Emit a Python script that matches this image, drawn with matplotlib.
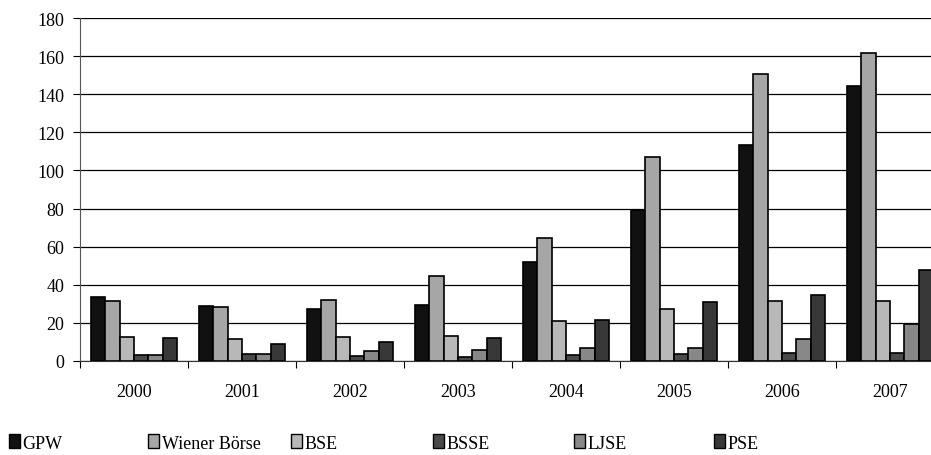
import matplotlib
matplotlib.use("Agg")
import matplotlib.pyplot as plt
import numpy as np
from matplotlib.patches import Patch

years = ["2000", "2001", "2002", "2003", "2004", "2005", "2006", "2007"]
series_names = ["GPW", "Wiener Börse", "BSE", "BSSE", "LJSE", "PSE"]
gpw    = [33.7, 28.8, 27.1, 29.4, 51.9, 79.5, 113.1, 144.4]
wiener = [31.6, 28.3, 32.1, 44.7, 64.5, 107.1, 150.8, 161.8]
bse    = [12.7, 11.5, 12.4, 13.1, 20.8, 27.4, 31.6, 31.5]
bsse   = [3.3, 3.8, 2.4, 2.1, 2.9, 3.7, 4.0, 4.4]
ljse   = [3.1, 3.7, 5.4, 5.6, 7.0, 6.6, 11.5, 19.6]
pse    = [12.1, 8.9, 9.8, 12.2, 21.7, 31.1, 34.8, 47.9]
colors = ["#111111", "#a6a6a6", "#b8b8b8", "#4a4a4a", "#888888", "#383838"]
yticks = [0, 20, 40, 60, 80, 100, 120, 140, 160, 180]

data = [gpw, wiener, bse, bsse, ljse, pse]

plt.rcParams['font.family'] = ['Liberation Serif', 'DejaVu Serif']

W, H = 931, 456
fig = plt.figure(figsize=(W / 100, H / 100), dpi=100)
ax = fig.add_axes([80 / W, (H - 362) / H, (944 - 80) / W, (362 - 19) / H])

n = len(data)
bw = 0.134
x = np.arange(len(years))
for i, (vals, c, name) in enumerate(zip(data, colors, series_names)):
    offs = (i - (n - 1) / 2) * bw
    ax.bar(x + offs, vals, width=bw, color=c, edgecolor="black", linewidth=1.2,
           label=name, zorder=3)

ax.set_xlim(-0.5, len(years) - 0.5)
ax.set_ylim(0, 180)
ax.set_yticks(yticks)
ax.yaxis.grid(True, color="black", linewidth=0.9, zorder=0)
ax.set_axisbelow(True)
ax.tick_params(axis="y", direction="out", length=5, width=0.8, labelsize=13, pad=6.5)

ax.set_xticks(np.arange(-0.5, len(years) + 0.5, 1.0))
ax.set_xticklabels([])
ax.set_xticks(x, minor=True)
ax.set_xticklabels(years, minor=True)
ax.tick_params(axis="x", which="major", direction="out", length=5, width=0.8)
ax.tick_params(axis="x", which="minor", length=0, labelsize=13, pad=15.5)

for s in ["top", "right"]:
    ax.spines[s].set_visible(False)
ax.spines["left"].set_color("#555555")
ax.spines["bottom"].set_color("#333333")

# legend entries, equally spaced along the bottom
xs = [9, 148, 291, 433, 574, 714]
for name, c, px in zip(series_names, colors, xs):
    h = Patch(facecolor=c, edgecolor="black", linewidth=1.0)
    fig.legend(handles=[h], labels=[name], loc="center left",
               bbox_to_anchor=(px / W, (H - 444) / H), frameon=False,
               fontsize=13, handlelength=0.6, handleheight=0.8,
               handletextpad=0.15, borderpad=0, borderaxespad=0)

fig.savefig("out.png", dpi=100)
